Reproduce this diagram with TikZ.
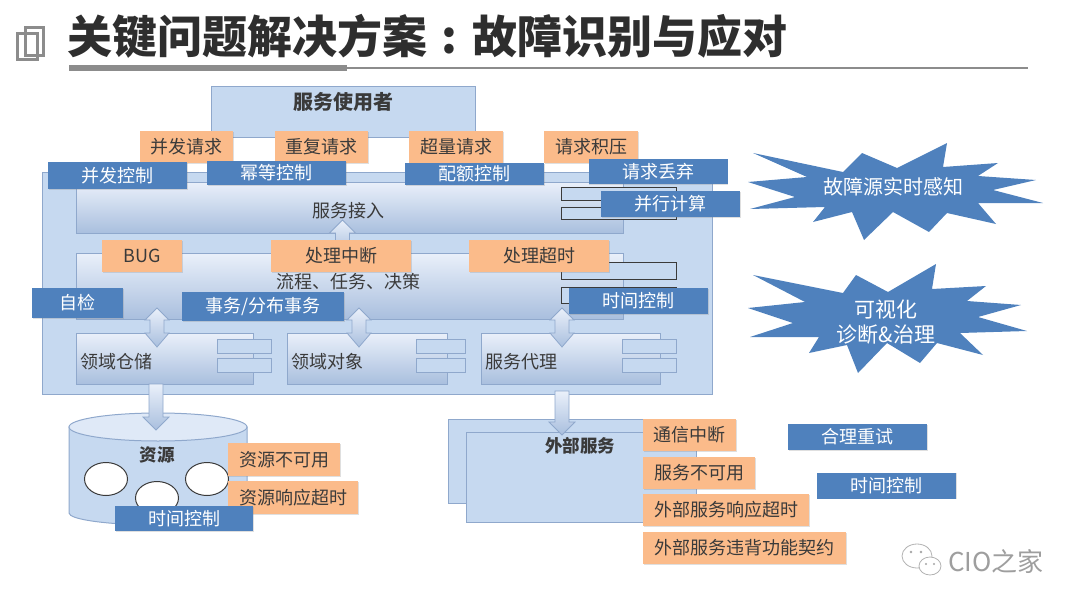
\documentclass[tikz,border=0pt]{standalone}
\usepackage{fontspec}
\setmainfont{Noto Sans CJK SC}
\usetikzlibrary{positioning,calc,shapes.geometric,shadows}
\definecolor{DiagBlue}{HTML}{4F81BD}
\definecolor{DiagOrange}{HTML}{FBBB8A}
\definecolor{DiagInk}{HTML}{3A3A3A}
\definecolor{DiagPanel}{HTML}{C6D9F0}
\definecolor{DiagEdge}{HTML}{8FA8CC}
\definecolor{DiagPale}{HTML}{EAF0FA}
\definecolor{DiagDeep}{HTML}{A9BFDE}
\definecolor{DiagGray}{HTML}{8C8C8C}
\tikzset{
  fault/.style={fill=DiagOrange, text=DiagInk, minimum height=32pt, inner sep=0pt,
    drop shadow={shadow xshift=1pt, shadow yshift=-1pt, opacity=.25}},
  guard/.style={fill=DiagBlue, text=white, minimum width=139pt, minimum height=26pt, inner sep=0pt,
    drop shadow={shadow xshift=.8pt, shadow yshift=-.8pt, opacity=.25}},
  panel/.style={draw=DiagEdge, line width=1pt, fill=DiagPanel, inner sep=0pt},
  layer/.style={draw=DiagEdge, line width=1pt, top color=DiagPale, bottom color=DiagDeep, inner sep=0pt},
  port/.style={draw=DiagInk, line width=1pt, fill=DiagPanel, minimum width=115pt, inner sep=0pt},
  tab/.style={draw=DiagEdge, line width=.8pt, fill=DiagPanel, minimum width=54pt, minimum height=14pt, inner sep=0pt},
  hole/.style={ellipse, draw=DiagInk, line width=1pt, fill=white, minimum width=43pt, minimum height=33pt, inner sep=0pt},
  spark/.style={fill=DiagBlue},
  blockarrow/.style={draw=DiagEdge, line width=.8pt, top color=DiagPale, bottom color=DiagDeep},
  blockdown/.style={to path={let \p1=(\tikztostart),\p2=(\tikztotarget) in
    (\x1-7pt,\y1) -- (\x1+7pt,\y1) -- (\x1+7pt,\y2+13pt) -- (\x1+13pt,\y2+13pt) -- (\x2,\y2)
    -- (\x1-13pt,\y2+13pt) -- (\x1-7pt,\y2+13pt) -- cycle}},
  blockup/.style={to path={let \p1=(\tikztostart),\p2=(\tikztotarget) in
    (\x1-7pt,\y1) -- (\x1+7pt,\y1) -- (\x1+7pt,\y2-13pt) -- (\x1+13pt,\y2-13pt) -- (\x2,\y2)
    -- (\x1-13pt,\y2-13pt) -- (\x1-7pt,\y2-13pt) -- cycle}},
  blockboth/.style={to path={let \p1=(\tikztostart),\p2=(\tikztotarget) in
    (\x1,\y1) -- (\x1+12pt,\y1-12pt) -- (\x1+7pt,\y1-12pt) -- (\x1+7pt,\y2+14pt) -- (\x1+12pt,\y2+14pt)
    -- (\x2,\y2) -- (\x1-12pt,\y2+14pt) -- (\x1-7pt,\y2+14pt) -- (\x1-7pt,\y1-12pt) -- (\x1-12pt,\y1-12pt) -- cycle}}
}

\begin{document}
\begin{tikzpicture}[x=1pt, y=-1pt, font=\fontsize{18pt}{22pt}\selectfont, text=DiagInk]
  \useasboundingbox (0,0) rectangle (1080,608);

  \draw[DiagGray, line width=3pt] (25,27) rectangle (43,55);
  \draw[DiagGray, line width=3pt] (17,33) rectangle (37,59);
  \node[anchor=west, inner sep=0pt, text=black!82, font=\fontsize{45pt}{50pt}\selectfont\bfseries] (headline) at (67,36)
        {关键问题解决方案\makebox[45pt]{:}故障识别与应对};
  \draw[DiagGray, line width=1.5pt] (347,68) -- (1028,68);
  \draw[DiagGray, line width=6pt] (69,68) -- (347,68);

  \node[panel, minimum width=264pt, minimum height=51pt] (user) at (343,111.5) {};
  \node[font=\fontsize{20pt}{24pt}\selectfont\bfseries] (usertxt) at (343,102) {服务使用者};

  \node[panel, minimum width=670pt, minimum height=222pt] (platform) at (377,283) {};
  \node[layer, minimum width=547pt, minimum height=51pt] (access) at (349.5,207.5) {};
  \node (accesstxt) at (348,211) {服务接入};
  \node[port, minimum height=13pt] (accessp1) at (618.5,193.5) {};
  \node[port, minimum height=12pt] (accessp2) at (618.5,213) {};

  \node[layer, minimum width=547pt, minimum height=66pt] (flow) at (349.5,286) {};
  \node (flowtxt) at (348,282) {流程、任务、决策};
  \node[port, minimum height=17pt] (flowp1) at (618.5,270.5) {};
  \node[port, minimum height=16pt] (flowp2) at (618.5,295) {};

  \node[layer, minimum width=177pt, minimum height=51pt] (store) at (164.5,358.5) {};
  \node[anchor=west, inner sep=0pt] (storetxt) at (80,362) {领域仓储};
  \node[tab] (storet1) at (244,346) {};
  \node[tab] (storet2) at (244,365.5) {};
  \node[layer, minimum width=160pt, minimum height=51pt] (domain) at (367,358.5) {};
  \node[anchor=west, inner sep=0pt] (domaintxt) at (291,362) {领域对象};
  \node[tab, minimum width=49pt] (domaint1) at (440.5,346) {};
  \node[tab, minimum width=49pt] (domaint2) at (440.5,365.5) {};
  \node[layer, minimum width=179pt, minimum height=51pt] (proxy) at (570.5,358.5) {};
  \node[anchor=west, inner sep=0pt] (proxytxt) at (485,362) {服务代理};
  \node[tab] (proxyt1) at (649,346) {};
  \node[tab] (proxyt2) at (649,365.5) {};

  \coordinate (flowtip) at (342.5,253);
  \coordinate (accesstip) at (342.5,220);
  \coordinate (both1a) at (157,308);
  \coordinate (both1b) at (157,347);
  \coordinate (both2a) at (359,308);
  \coordinate (both2b) at (359,347);
  \coordinate (both3a) at (562,308);
  \coordinate (both3b) at (562,347);
  \coordinate (storeout) at (156,384);
  \coordinate (storetip) at (156,430);
  \coordinate (proxyout) at (562,391);
  \coordinate (proxytip) at (562,435);

  \path[fill=DiagPanel, draw=DiagEdge, line width=1pt] (69,427) -- (69,513)
        arc[start angle=180, end angle=0, x radius=89, y radius=12] -- (247,427) -- cycle;
  \draw[fill=DiagPale!70!DiagPanel, draw=DiagEdge, line width=1pt] (158,427) ellipse[x radius=89, y radius=14];
  \node[font=\fontsize{17.5pt}{22pt}\selectfont\bfseries] (restxt) at (157,455) {资源};
  \node[hole] (res1) at (106,479) {};
  \node[hole] (res2) at (157,498) {};
  \node[hole] (res3) at (207,479) {};

  \node[panel, minimum width=248pt, minimum height=84pt] (extback) at (572,461) {};
  \node[panel, minimum width=230pt, minimum height=90pt] (extfront) at (581,477) {};
  \node[font=\fontsize{17.5pt}{22pt}\selectfont\bfseries] (exttxt) at (580,446) {外部服务};

  \draw[blockarrow, blockup] (flowtip) to (accesstip);
  \draw[blockarrow, blockboth] (both1a) to (both1b);
  \draw[blockarrow, blockboth] (both2a) to (both2b);
  \draw[blockarrow, blockboth] (both3a) to (both3b);
  \draw[blockarrow, blockdown] (storeout) to (storetip);
  \draw[blockarrow, blockdown] (proxyout) to (proxytip);

  \node[fault, minimum width=93pt] (reqconc) at (186.5,147) {并发请求};
  \node[fault, minimum width=93pt] (reqdup) at (321.5,147) {重复请求};
  \node[fault, minimum width=94pt] (reqover) at (456,147) {超量请求};
  \node[fault, minimum width=94pt] (reqback) at (591,147) {请求积压};
  \node[guard, minimum height=27pt] (ctlconc) at (117.5,175.5) {并发控制};
  \node[guard, minimum height=24pt] (ctlidem) at (276.5,173) {幂等控制};
  \node[guard, minimum height=22pt] (ctlquota) at (474.5,174) {配额控制};
  \node[guard, minimum height=25pt] (ctldrop) at (658,171.5) {请求丢弃};
  \node[guard] (ctlpar) at (670.5,204) {并行计算};

  \node[fault, minimum width=80pt] (bug) at (142,256) {BUG};
  \node[fault, minimum width=140pt] (halt) at (341,256) {处理中断};
  \node[fault, minimum width=140pt] (late) at (539,256) {处理超时};
  \node[guard, minimum width=91pt, minimum height=30pt] (selfchk) at (77.5,303) {自检};
  \node[guard, minimum width=162pt, minimum height=29pt] (txn) at (263,306.5) {事务/分布事务};
  \node[guard] (flowtime) at (638.5,301) {时间控制};

  \node[fault, minimum width=112pt, minimum height=33pt] (resdown) at (284,459.5) {资源不可用};
  \node[fault, minimum width=130pt, minimum height=33pt] (reslate) at (293,497.5) {资源响应超时};
  \node[guard, minimum width=138pt, minimum height=25pt] (restime) at (184,518.5) {时间控制};

  \node[fault, minimum width=93pt] (linkcut) at (689.5,435) {通信中断};
  \node[fault, minimum width=112pt] (extdown) at (699,473) {服务不可用};
  \node[fault, minimum width=166pt] (extlate) at (726,510) {外部服务响应超时};
  \node[fault, minimum width=203pt] (extbreach) at (744.5,548) {外部服务违背功能契约};
  \node[guard] (retry) at (857.5,437) {合理重试};
  \node[guard] (exttime) at (886.5,485.5) {时间控制};

  \fill[spark] (753,153) -- (843,172) -- (862,153) -- (897,168) -- (947,143) -- (943,167) -- (998,163)
        -- (978,176) -- (1036,180) -- (993,190) -- (1043,203) -- (978,203) -- (996,224) -- (947,213)
        -- (929,232) -- (893,212) -- (864,240) -- (852,212) -- (813,222) -- (825,207) -- (750,209)
        -- (795,197) -- (748,182) -- (807,177) -- cycle;
  \node[text=white, font=\fontsize{20pt}{24pt}\selectfont] (sense) at (893,187) {故障源实时感知};

  \fill[spark] (753,275) -- (843,293) -- (856,275) -- (888,292) -- (936,264) -- (932,289) -- (986,286)
        -- (967,301) -- (1021,305) -- (978,317) -- (1027,331) -- (960,333) -- (983,355) -- (937,343)
        -- (920,363) -- (887,343) -- (858,373) -- (847,345) -- (809,353) -- (819,337) -- (750,337)
        -- (793,323) -- (748,308) -- (805,302) -- cycle;
  \node[text=white, font=\fontsize{21pt}{25pt}\selectfont, align=center] (visual) at (886,322) {可视化\\诊断\&治理};

  \draw[black!30, line width=.8pt, fill=white] (917,556) ellipse[x radius=15, y radius=12];
  \draw[black!30, line width=.8pt, fill=white] (930,566) ellipse[x radius=11, y radius=9];
  \fill[black!35] (911,552) circle[radius=1.3pt] (921,552) circle[radius=1.3pt] (926,564) circle[radius=1.1pt] (934,564) circle[radius=1.1pt];
  \node[anchor=west, inner sep=0pt, text=black!38, font=\fontsize{26pt}{30pt}\selectfont] (mark) at (948,561) {CIO之家};
\end{tikzpicture}
\end{document}
